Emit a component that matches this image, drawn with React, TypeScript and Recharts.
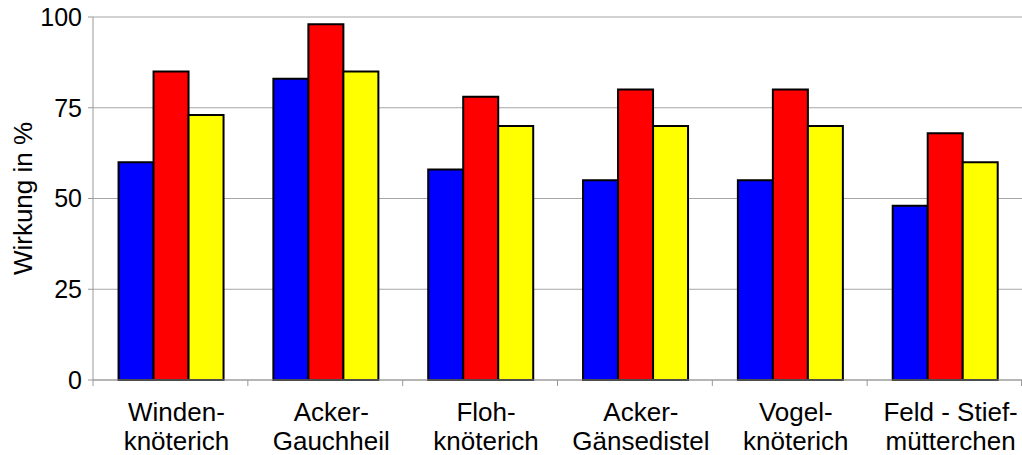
import React from 'react';
import { BarChart, Bar, XAxis, YAxis, CartesianGrid } from 'recharts';

const categories = [
  ['Winden-', 'knöterich'],
  ['Acker-', 'Gauchheil'],
  ['Floh-', 'knöterich'],
  ['Acker-', 'Gänsedistel'],
  ['Vogel-', 'knöterich'],
  ['Feld - Stief-', 'mütterchen'],
];
const blueValues = [60, 83, 58, 55, 55, 48];
const redValues = [85, 98, 78, 80, 80, 68];
const yellowValues = [73, 85, 70, 70, 70, 60];
const yTicks = [0, 25, 50, 75, 100];

const data = categories.map((c, i) => ({
  name: c.join('\n'),
  blue: blueValues[i],
  red: redValues[i],
  yellow: yellowValues[i],
}));

const FONT = '"Liberation Sans", Arial, sans-serif';
const AXIS_GREY = '#999';

function XTick(props: any) {
  const { x, y, payload, index } = props;
  const lines = String(payload.value).split('\n');
  const off = typeof payload.offset === 'number' ? payload.offset : 0;
  const last = index === categories.length - 1;
  return (
    <g>
      <line x1={x - off} y1={y} x2={x - off} y2={y + 6} stroke={AXIS_GREY} strokeWidth={1} />
      {last && <line x1={x + off - 0.5} y1={y} x2={x + off - 0.5} y2={y + 6} stroke={AXIS_GREY} strokeWidth={1} />}
      <text x={x + 6} y={y} textAnchor="middle" fontFamily={FONT} fontSize={26} fill="#000">
        <tspan x={x + 6} dy={41}>{lines[0]}</tspan>
        <tspan x={x + 6} dy={29}>{lines[1]}</tspan>
      </text>
    </g>
  );
}

function YLabel(props: any) {
  const { viewBox } = props;
  const cx = viewBox.x + 23;
  const cy = viewBox.y + viewBox.height / 2;
  return (
    <text
      x={cx}
      y={cy}
      transform={`rotate(-90, ${cx}, ${cy})`}
      textAnchor="middle"
      dominantBaseline="central"
      fontFamily={FONT}
      fontSize={26}
      fill="#000"
    >
      Wirkung in %
    </text>
  );
}

export default function App() {
  return (
    <div style={{ position: 'absolute', left: 0, top: 0, background: '#fff' }}>
      <BarChart
        width={1022}
        height={455}
        data={data}
        margin={{ top: 17, right: 0, bottom: 0, left: 0 }}
        barCategoryGap="16.5%"
        barGap={0}
      >
        <CartesianGrid vertical={false} stroke="#a6a6a6" strokeWidth={1.2} />
        <XAxis
          dataKey="name"
          height={75}
          stroke={AXIS_GREY}
          tickLine={false}
          tickSize={0}
          tickMargin={0}
          interval={0}
          tick={<XTick />}
        />
        <YAxis
          width={93}
          domain={[0, 100]}
          ticks={yTicks}
          stroke={AXIS_GREY}
          tickSize={5}
          tickMargin={6}
          tick={{ fontFamily: FONT, fontSize: 25, fill: '#000' }}
          label={<YLabel />}
        />
        <Bar dataKey="blue" fill="#0000ff" stroke="#000" strokeWidth={2} isAnimationActive={false} />
        <Bar dataKey="red" fill="#ff0000" stroke="#000" strokeWidth={2} isAnimationActive={false} />
        <Bar dataKey="yellow" fill="#ffff00" stroke="#000" strokeWidth={2} isAnimationActive={false} />
      </BarChart>
    </div>
  );
}
